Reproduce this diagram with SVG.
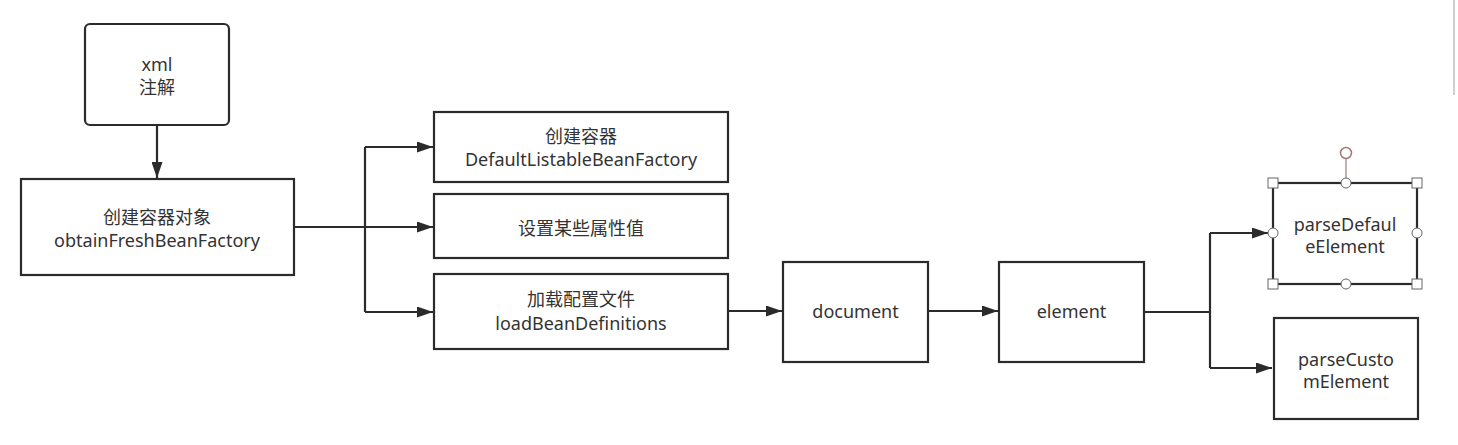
<svg xmlns="http://www.w3.org/2000/svg" width="1458" height="445" viewBox="0 0 1458 445">
<style>
.box{fill:#fff;stroke:#2b2b2b;stroke-width:2.2}
.t{font-family:"Noto Sans","Noto Sans CJK SC",sans-serif;font-size:18px;fill:#333;text-anchor:middle}
.c{fill:none;stroke:#2b2b2b;stroke-width:2.2}
.h{fill:#fff;stroke:#666;stroke-width:1}
</style>
<defs>
<marker id="a" markerWidth="16" markerHeight="11" refX="16" refY="5.5" orient="auto" markerUnits="userSpaceOnUse">
<path d="M0,0 L16,5.5 L0,11 Z" fill="#2b2b2b"/>
</marker>
</defs>
<rect width="1458" height="445" fill="#fff"/>
<line x1="1454" y1="0" x2="1454" y2="95" stroke="#d0d0d0" stroke-width="2"/>
<g id="connectors">
<path class="c" d="M157,125 V178" marker-end="url(#a)"/>
<path class="c" d="M294,227 H365"/>
<path class="c" d="M365,147 V312"/>
<path class="c" d="M365,147 H433" marker-end="url(#a)"/>
<path class="c" d="M365,227 H433" marker-end="url(#a)"/>
<path class="c" d="M365,312 H433" marker-end="url(#a)"/>
<path class="c" d="M728,311 H782" marker-end="url(#a)"/>
<path class="c" d="M928,311 H998" marker-end="url(#a)"/>
<path class="c" d="M1144,312 H1210"/>
<path class="c" d="M1210,233 V368"/>
<path class="c" d="M1210,233 H1268" marker-end="url(#a)"/>
<path class="c" d="M1210,368 H1272" marker-end="url(#a)"/>
</g>
<g id="xml">
<rect class="box" x="85" y="24" width="144" height="101" rx="5"/>
<text class="t" x="157" y="71">xml</text>
<text class="t" x="157" y="94">注解</text>
</g>
<g id="obtain">
<rect class="box" x="21" y="179" width="273" height="96"/>
<text class="t" x="157" y="224">创建容器对象</text>
<text class="t" x="157" y="247">obtainFreshBeanFactory</text>
</g>
<g id="create">
<rect class="box" x="434" y="112" width="294" height="70"/>
<text class="t" x="581" y="143">创建容器</text>
<text class="t" x="581" y="166">DefaultListableBeanFactory</text>
</g>
<g id="setprops">
<rect class="box" x="434" y="194" width="294" height="64"/>
<text class="t" x="581" y="235">设置某些属性值</text>
</g>
<g id="load">
<rect class="box" x="434" y="274" width="294" height="75"/>
<text class="t" x="581" y="306">加载配置文件</text>
<text class="t" x="581" y="330">loadBeanDefinitions</text>
</g>
<g id="document">
<rect class="box" x="783" y="262" width="145" height="100"/>
<text class="t" x="855.5" y="318">document</text>
</g>
<g id="element">
<rect class="box" x="999" y="262" width="145" height="100"/>
<text class="t" x="1071.5" y="318">element</text>
</g>
<g id="parseDefault">
<rect class="box" x="1273" y="183" width="144" height="101"/>
<text class="t" x="1345" y="231">parseDefaul</text>
<text class="t" x="1345" y="253">eElement</text>
<line x1="1346" y1="159" x2="1346" y2="178" stroke="#a07a7a" stroke-width="1.2"/>
<circle cx="1346" cy="153" r="5.5" fill="#fff" stroke="#a07a7a" stroke-width="1.5"/>
<rect class="h" x="1268" y="178" width="10" height="10"/>
<rect class="h" x="1412" y="178" width="10" height="10"/>
<rect class="h" x="1268" y="279" width="10" height="10"/>
<rect class="h" x="1412" y="279" width="10" height="10"/>
<circle class="h" cx="1346" cy="183" r="5"/>
<circle class="h" cx="1346" cy="284" r="5"/>
<circle class="h" cx="1273" cy="233" r="5"/>
<circle class="h" cx="1417" cy="233" r="5"/>
</g>
<g id="parseCustom">
<rect class="box" x="1274" y="318" width="144" height="101"/>
<text class="t" x="1346" y="366">parseCusto</text>
<text class="t" x="1346" y="388">mElement</text>
</g>
</svg>
